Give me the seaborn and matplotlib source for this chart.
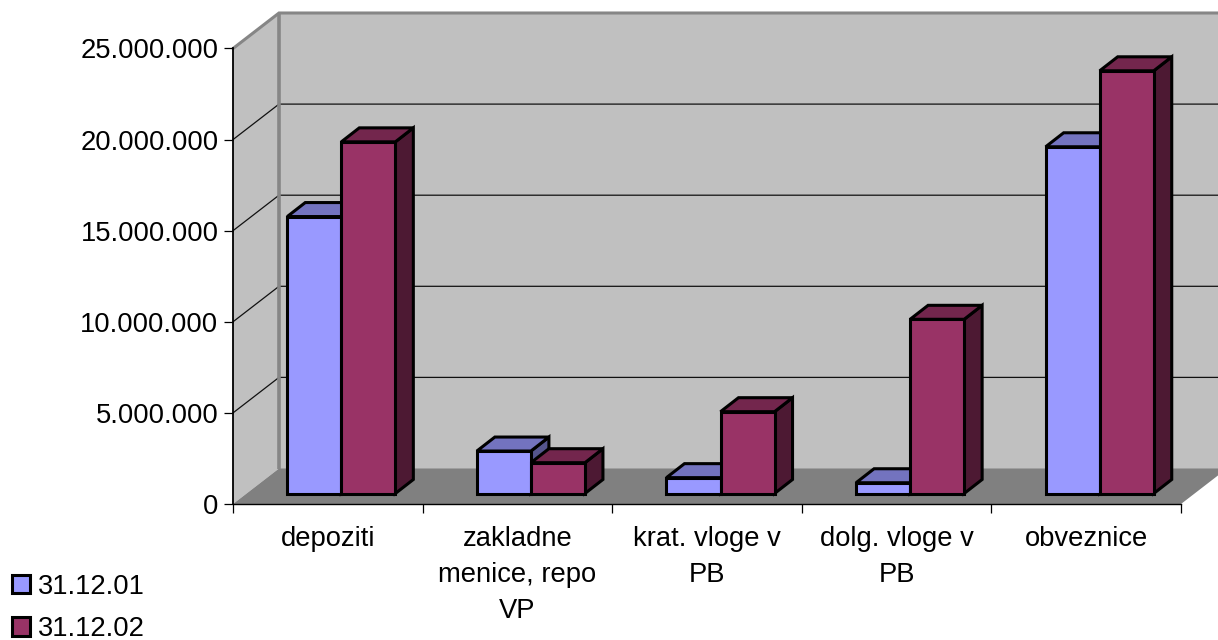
import matplotlib
matplotlib.use("Agg")
import matplotlib.pyplot as plt
import matplotlib.patches as mpatches
from matplotlib.ticker import FuncFormatter
from matplotlib.transforms import Affine2D
import pandas as pd
import seaborn as sns

categories = ["depoziti", "zakladne\nmenice, repo\nVP", "krat. vloge v\nPB", "dolg. vloge v\nPB", "obveznice"]
dec_2001 = [15200000, 2330000, 870000, 590000, 19030000]
dec_2002 = [19300000, 1690000, 4490000, 9560000, 23200000]
series_names = ["31.12.01", "31.12.02"]
y_ticks = [0, 5000000, 10000000, 15000000, 20000000, 25000000]

FRONT = {"31.12.01": "#9999FF", "31.12.02": "#993366"}
TOP = {"31.12.01": "#7373BF", "31.12.02": "#73264D"}
SIDE = {"31.12.01": "#55558E", "31.12.02": "#4D1933"}
WALL, FLOOR, FRAME = "#C0C0C0", "#808080", "#868686"

sns.set_style("white")
plt.rcParams["font.family"] = ["Liberation Sans", "DejaVu Sans"]
plt.rcParams["text.color"] = "black"
FONT = 19.7
EDGE = 2.2

W, H = 1218, 640
fig = plt.figure(figsize=(W / 100, H / 100), dpi=100)
ax = fig.add_axes([233 / W, (H - 504) / H, 948 / W, 455.5 / H])
ax.patch.set_visible(False)

table = pd.DataFrame({"category": categories, series_names[0]: dec_2001, series_names[1]: dec_2002})
long_table = table.melt("category", var_name="date", value_name="value")
sns.barplot(data=long_table, x="category", y="value", hue="date", palette=FRONT,
            width=0.57, gap=0, saturation=1, edgecolor="black", linewidth=EDGE,
            legend=False, ax=ax)

ax.set_xlim(-0.5, 4.5)
ax.set_ylim(0, 25000000)
ax.set_xlabel("")
ax.set_ylabel("")

# Pixel-to-data scales for the oblique projection
ux = 5 / 948
uy = 25000000 / 455.5
x0, x1 = ax.get_xlim()
y0, y1 = ax.get_ylim()
wall_dx, wall_dy = 46 * ux, 35.5 * uy

# Side wall, back wall and floor of the 3D box
ax.add_patch(mpatches.Polygon([(x0, y0), (x0 + wall_dx, y0 + wall_dy), (x0 + wall_dx, y1 + wall_dy), (x0, y1)],
                              fc=WALL, ec="none", clip_on=False, zorder=0.1))
ax.add_patch(mpatches.Polygon([(x0 + wall_dx, y0 + wall_dy), (x1 + wall_dx, y0 + wall_dy),
                               (x1 + wall_dx, y1 + wall_dy), (x0 + wall_dx, y1 + wall_dy)],
                              fc=WALL, ec="none", clip_on=False, zorder=0.1))
ax.add_patch(mpatches.Polygon([(x0, y0), (x1, y0), (x1 + wall_dx, y0 + wall_dy), (x0 + wall_dx, y0 + wall_dy)],
                              fc=FLOOR, ec="none", clip_on=False, zorder=0.2))

# Gridlines run up the side wall and along the back wall
for tick in y_ticks[1:-1]:
    ax.plot([x0, x0 + wall_dx, x1 + wall_dx], [tick, tick + wall_dy, tick + wall_dy],
            color="#111111", lw=0.9, clip_on=False, zorder=0.3)
ax.plot([x0, x0 + wall_dx, x1 + wall_dx], [y1, y1 + wall_dy, y1 + wall_dy],
        color=FRAME, lw=2.2, clip_on=False, zorder=0.4, solid_joinstyle="miter")
ax.plot([x0 + wall_dx, x0 + wall_dx], [y0 + wall_dy, y1 + wall_dy],
        color=FRAME, lw=2.6, clip_on=False, zorder=0.4, solid_capstyle="butt")

# Extrude each seaborn bar: its front face sits inside the box, with top and side faces behind it
inset = Affine2D().translate(13.5, 10.5)
depth_x, depth_y = 18 * ux, 14 * uy
bars = sorted((p for p in ax.patches if isinstance(p, mpatches.Rectangle)), key=lambda p: p.get_x())
for rank, bar in enumerate(bars):
    left, right = bar.get_x(), bar.get_x() + bar.get_width()
    top = bar.get_height()
    name = series_names[rank % 2]
    z = 2 + rank
    shifted = ax.transData + inset
    bar.set_transform(shifted)
    bar.set_clip_on(False)
    bar.set_zorder(z + 0.5)
    bar.set_joinstyle("miter")
    ax.add_patch(mpatches.Polygon([(left, top), (right, top), (right + depth_x, top + depth_y), (left + depth_x, top + depth_y)],
                                  fc=TOP[name], ec="black", lw=EDGE, transform=shifted, clip_on=False, zorder=z + 0.2))
    ax.add_patch(mpatches.Polygon([(right, 0), (right + depth_x, depth_y), (right + depth_x, top + depth_y), (right, top)],
                                  fc=SIDE[name], ec="black", lw=EDGE, transform=shifted, clip_on=False, zorder=z + 0.1))

# Axes: ticks mark category edges, labels sit at category centres
for side in ("top", "right"):
    ax.spines[side].set_visible(False)
for side, width in (("left", 1.3), ("bottom", 1.0)):
    ax.spines[side].set_visible(True)
    ax.spines[side].set_color("black")
    ax.spines[side].set_linewidth(width)
    ax.spines[side].set_zorder(1)
ax.set_yticks(y_ticks)
ax.yaxis.set_major_formatter(FuncFormatter(lambda v, _: f"{v:,.0f}".replace(",", ".")))
ax.set_xticks([-0.5, 0.5, 1.5, 2.5, 3.5, 4.5])
ax.set_xticklabels([])
ax.set_xticks(range(5), categories, minor=True)
ax.tick_params(axis="y", which="major", left=True, length=6.5, width=0.9, color="black", pad=4.0,
               labelsize=FONT, labelcolor="black")
ax.tick_params(axis="x", which="major", bottom=True, length=6.5, width=0.9, color="black")
ax.tick_params(axis="x", which="minor", bottom=False, length=0, pad=16, labelsize=FONT, labelcolor="black")
for label in ax.get_xticklabels(minor=True):
    label.set_linespacing(1.49)

# Legend stacked in the lower left corner
handles = [mpatches.Patch(fc=FRONT[n], ec="black", lw=EDGE, label=n) for n in series_names]
fig.legend(handles=handles, loc="lower left", bbox_to_anchor=(12 / W, -2 / H), frameon=False, fontsize=FONT,
           handlelength=0.66, handleheight=0.66, handletextpad=0.3, labelspacing=0.6,
           labelcolor="black", borderpad=0, borderaxespad=0)

fig.savefig("out.png", dpi=100)
